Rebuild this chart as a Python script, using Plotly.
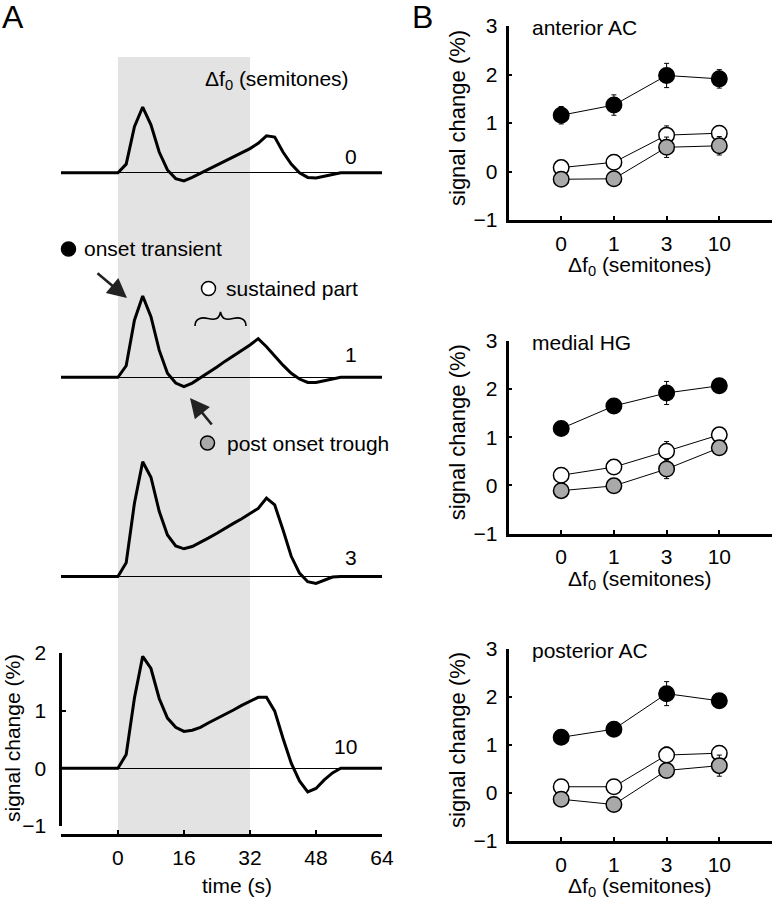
import plotly.graph_objects as go

# ---------------- data ----------------
# Panel A: mean time courses (signal change, %) for each f0 difference
time_s = [-14, 0, 2, 4, 6, 8, 10, 12, 14, 16, 18, 20, 22, 24, 26, 28, 30, 32,
          34, 36, 38, 40, 42, 44, 46, 48, 50, 52, 54, 64]
resp_0 = [0, 0, 0.15, 0.80, 1.14, 0.83, 0.36, 0.05, -0.10, -0.14, -0.08, -0.01, 0.06, 0.13,
          0.20, 0.27, 0.35, 0.42, 0.51, 0.64, 0.62, 0.36, 0.15, 0.0, -0.08, -0.09, -0.06,
          -0.03, 0, 0]
resp_1 = [0, 0, 0.20, 0.99, 1.41, 1.05, 0.47, 0.07, -0.10, -0.16, -0.10, -0.01, 0.08, 0.18,
          0.28, 0.37, 0.46, 0.56, 0.67, 0.53, 0.37, 0.21, 0.07, -0.03, -0.09, -0.09, -0.06,
          -0.03, 0, 0]
resp_3 = [0, 0, 0.24, 1.27, 1.99, 1.72, 1.13, 0.72, 0.53, 0.48, 0.52, 0.59, 0.67, 0.75,
          0.84, 0.92, 1.00, 1.09, 1.18, 1.36, 1.24, 0.81, 0.35, 0.06, -0.09, -0.12, -0.06,
          -0.01, 0, 0]
resp_10 = [0, 0, 0.24, 1.22, 1.94, 1.73, 1.21, 0.87, 0.71, 0.64, 0.66, 0.71, 0.79, 0.86,
           0.94, 1.01, 1.09, 1.16, 1.23, 1.23, 0.99, 0.52, 0.09, -0.22, -0.41, -0.35, -0.20,
           -0.08, 0, 0]
curve_labels = ["10", "3", "1", "0"]
time_ticks = [0, 16, 32, 48, 64]
stim_on, stim_off = 0, 32

# Panel B: response components per region
semitones = ["0", "1", "3", "10"]
regions = ["anterior AC", "medial HG", "posterior AC"]

ant_onset = [1.16, 1.37, 1.98, 1.91]
ant_onset_err = [0.18, 0.21, 0.25, 0.19]
ant_sustained = [0.08, 0.19, 0.75, 0.79]
ant_sustained_err = [0.10, 0.10, 0.19, 0.15]
ant_trough = [-0.16, -0.15, 0.50, 0.53]
ant_trough_err = [0.10, 0.10, 0.21, 0.19]

med_onset = [1.18, 1.65, 1.92, 2.07]
med_onset_err = [0.12, 0.08, 0.24, 0.08]
med_sustained = [0.21, 0.38, 0.71, 1.05]
med_sustained_err = [0.08, 0.08, 0.20, 0.08]
med_trough = [-0.11, -0.01, 0.34, 0.78]
med_trough_err = [0.08, 0.08, 0.20, 0.08]

post_onset = [1.16, 1.33, 2.07, 1.92]
post_onset_err = [0.12, 0.08, 0.25, 0.08]
post_sustained = [0.13, 0.13, 0.79, 0.83]
post_sustained_err = [0.08, 0.08, 0.17, 0.12]
post_trough = [-0.13, -0.24, 0.47, 0.57]
post_trough_err = [0.08, 0.08, 0.15, 0.22]

# ---------------- layout helpers ----------------
W, H = 773, 900
FONT = "Liberation Sans, Arial, Helvetica, sans-serif"
FS = 21
GRAY_FILL = "#a9a9a9"
SHADE = "#e3e3e3"


def px(x):
    return x / W


def py(y):
    return 1 - y / H


A_SCALE = 57.7  # px per 1 % signal change


def ydom(base_px, lo, hi):
    return [py(base_px - lo * A_SCALE), py(base_px - hi * A_SCALE)]


fig = go.Figure()

# ---------------- Panel A ----------------
a_series = [resp_10, resp_3, resp_1, resp_0]
a_yaxes = ["y", "y2", "y3", "y4"]
for vals, ya in zip(a_series, a_yaxes):
    fig.add_trace(go.Scatter(x=time_s, y=vals, xaxis="x", yaxis=ya, mode="lines",
                             line=dict(color="black", width=3), showlegend=False,
                             hoverinfo="skip"))

hidden_y = dict(showticklabels=False, showline=False, ticks="", showgrid=False,
                zeroline=True, zerolinecolor="black", zerolinewidth=1, anchor="x",
                fixedrange=True, automargin=False)

layout = dict(
    width=W, height=H, margin=dict(l=0, r=0, t=0, b=0, pad=0, autoexpand=False),
    paper_bgcolor="white", plot_bgcolor="rgba(0,0,0,0)",
    font=dict(family=FONT, size=FS, color="black"),
    showlegend=False,
    xaxis=dict(domain=[px(61), px(382)], range=[-13.8, 64], anchor="free",
               position=py(835), showline=True, linecolor="black", linewidth=3,
               ticks="inside", ticklen=4, tickwidth=2, tickcolor="black",
               tickvals=time_ticks, showgrid=False, zeroline=False,
               ticklabelstandoff=3, automargin=False),
    yaxis=dict(domain=ydom(768.3, -1, 2), range=[-1, 2], anchor="free",
               position=px(59.5), showline=True, linecolor="black", linewidth=3,
               ticks="inside", ticklen=4, tickwidth=2, tickcolor="black",
               tickvals=[-1, 0, 1, 2], showgrid=False, zeroline=True,
               zerolinecolor="black", zerolinewidth=1, ticklabelstandoff=8,
               automargin=False),
    yaxis2=dict(domain=ydom(576.5, -0.5, 2.2), range=[-0.5, 2.2], **hidden_y),
    yaxis3=dict(domain=ydom(377.3, -0.5, 1.6), range=[-0.5, 1.6], **hidden_y),
    yaxis4=dict(domain=ydom(172.8, -0.5, 1.3), range=[-0.5, 1.3], **hidden_y),
)

# ---------------- Panel B ----------------
b_data = [
    (ant_onset, ant_onset_err, ant_sustained, ant_sustained_err, ant_trough, ant_trough_err),
    (med_onset, med_onset_err, med_sustained, med_sustained_err, med_trough, med_trough_err),
    (post_onset, post_onset_err, post_sustained, post_sustained_err, post_trough, post_trough_err),
]
b_pix = [(26, 220), (341, 533.5), (649, 841)]  # (y of 3, y of -1)
fills = ["black", "white", GRAY_FILL]

for i, (vals, (ytop, ybot)) in enumerate(zip(b_data, b_pix)):
    xa = "x%d" % (i + 2)
    ya = "y%d" % (i + 5)
    series = [(vals[0], vals[1]), (vals[2], vals[3]), (vals[4], vals[5])]
    for (m, e), fc in zip(series, fills):
        fig.add_trace(go.Scatter(
            x=semitones, y=m, xaxis=xa, yaxis=ya, mode="lines+markers",
            line=dict(color="black", width=1),
            marker=dict(size=15.5, color=fc, line=dict(color="black", width=1.5)),
            error_y=dict(type="data", array=e, visible=True, color="black",
                         thickness=1, width=2.5),
            showlegend=False, hoverinfo="skip"))
    layout["xaxis%d" % (i + 2)] = dict(
        domain=[px(508.5), px(772)], anchor=ya, type="category",
        categoryorder="array", categoryarray=semitones, range=[-1, 4],
        showline=True, linecolor="black", linewidth=2.5, ticks="inside", ticklen=4,
        tickwidth=1.5, tickcolor="black", showgrid=False, zeroline=False,
        ticklabelstandoff=3, automargin=False)
    layout["yaxis%d" % (i + 5)] = dict(
        domain=[py(ybot), py(ytop)], anchor=xa, range=[-1, 3],
        tickvals=[-1, 0, 1, 2, 3], showline=True, linecolor="black", linewidth=2.5,
        ticks="inside", ticklen=4, tickwidth=1.5, tickcolor="black",
        showgrid=False, zeroline=False, ticklabelstandoff=4, automargin=False)

fig.update_layout(**layout)

# ---------------- shapes ----------------
shapes = []
# stimulus period shading
shapes.append(dict(type="rect", xref="x", yref="paper", x0=stim_on, x1=stim_off,
                   y0=py(834), y1=py(57), fillcolor=SHADE, line=dict(width=0),
                   layer="below"))


def circle(cx, cy, r, fill):
    return dict(type="circle", xref="paper", yref="paper", x0=px(cx - r), x1=px(cx + r),
                y0=py(cy + r), y1=py(cy - r), fillcolor=fill,
                line=dict(color="black", width=1.5), layer="above")


shapes.append(circle(68.5, 249, 7, "black"))
shapes.append(circle(208.5, 288.5, 7, "white"))
shapes.append(circle(207.5, 443, 7, GRAY_FILL))

# curly brace over the sustained part
brace_pts = [(195, 326), (195, 318), (202, 317), (208, 318.5), (214, 320), (219, 320),
             (220.5, 312), (222, 320), (227, 320), (233, 318.5), (239, 317), (246, 318),
             (246, 326)]
p = ["M %.5f,%.5f" % (px(brace_pts[0][0]), py(brace_pts[0][1]))]
for k in range(1, len(brace_pts), 3):
    seg = brace_pts[k:k + 3]
    p.append("C " + " ".join("%.5f,%.5f" % (px(a), py(b)) for a, b in seg))
shapes.append(dict(type="path", xref="paper", yref="paper", path=" ".join(p),
                   line=dict(color="black", width=1.6)))
fig.update_layout(shapes=shapes)

# ---------------- annotations ----------------
ann = []


def text(x, y, s, size=FS, xanchor="center", yanchor="middle", angle=0):
    ann.append(dict(x=px(x), y=py(y), xref="paper", yref="paper", text=s,
                    showarrow=False, xanchor=xanchor, yanchor=yanchor, textangle=angle,
                    font=dict(family=FONT, size=size, color="black")))


text(0, 17, "A", size=32, xanchor="left")
text(410, 17, "B", size=32, xanchor="left")
text(203, 80, "Δf<sub>0</sub> (semitones)", xanchor="left")

# curve labels
for lbl, ypos in zip(curve_labels, [746.5, 557, 355, 156]):
    text(358.5, ypos, lbl, xanchor="right")

text(237, 885, "time (s)")
text(12, 738, "signal change (%)", angle=-90)

text(82, 249, "onset transient", xanchor="left")
text(224, 288.5, "sustained part", xanchor="left")
text(225, 443, "post onset trough", xanchor="left")

# arrows
ann.append(dict(x=px(127), y=py(298), xref="paper", yref="paper", ax=-31, ay=-26,
                text="", showarrow=True, arrowhead=2, arrowsize=1.5, arrowwidth=2.6,
                arrowcolor="#222222"))
ann.append(dict(x=px(190), y=py(398), xref="paper", yref="paper", ax=23, ay=28,
                text="", showarrow=True, arrowhead=2, arrowsize=1.5, arrowwidth=2.6,
                arrowcolor="#222222"))

# panel B titles
for reg, (ytop, ybot) in zip(regions, b_pix):
    text(530, ytop + 1, reg, xanchor="left")
    text(640, ybot + 46, "Δf<sub>0</sub> (semitones)")
    text(457, (ytop + ybot) / 2 - 5, "signal change (%)", size=22, angle=-90)

fig.update_layout(annotations=ann)

fig.write_html("out.html", config={"displayModeBar": False},
               post_script="document.body.style.margin='0px';")
